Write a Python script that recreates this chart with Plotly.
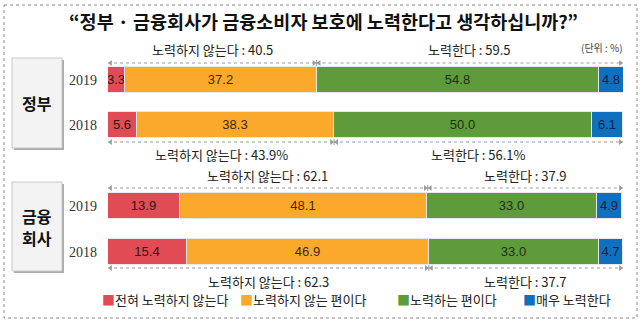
import plotly.graph_objects as go

# ---- data -------------------------------------------------------------
groups = ["정부", "정부", "금융회사", "금융회사"]
years = ["2019", "2018", "2019", "2018"]
series_names = ["전혀 노력하지 않는다", "노력하지 않는 편이다", "노력하는 편이다", "매우 노력한다"]
not_at_all = [3.3, 5.6, 13.9, 15.4]
not_really = [37.2, 38.3, 48.1, 46.9]
somewhat = [54.8, 50.0, 33.0, 33.0]
very_much = [4.8, 6.1, 4.9, 4.7]
# stated totals (top row of each group, then bottom row)
no_effort_total = [40.5, 43.9, 62.1, 62.3]
effort_total = [59.5, 56.1, 37.9, 37.7]
total_suffix = ["", "%", "", ""]

# ---- styling / layout -------------------------------------------------
W, H = 642, 324
colors = ["#E14B53", "#FAA92A", "#5E9C3B", "#0F70C0"]
text_colors = ["#2a1a1a", "#3a2a10", "#1f2f16", "#0b2447"]
row_y = [80, 125, 206, 252]        # bar centres (px)
bar_h = 26
x0_px, x1_px = 108, 623
FONT = "Noto Sans CJK KR, Noto Sans, sans-serif"
NUM_FONT = "Liberation Sans Narrow, Liberation Sans, Noto Sans CJK KR, sans-serif"


def px(x):
    return x / W


fig = go.Figure()

series = [not_at_all, not_really, somewhat, very_much]
for name, vals, col, tcol in zip(series_names, series, colors, text_colors):
    fig.add_trace(go.Bar(
        y=row_y, x=vals, orientation="h", width=bar_h, name=name,
        marker=dict(color=col, line=dict(color="#E8E8E8", width=1)),
        text=[f"{v:.1f}" for v in vals], textposition="inside",
        insidetextanchor="middle", textangle=0, constraintext="none",
        textfont=dict(family=NUM_FONT, size=13, color=tcol),
        showlegend=False, hoverinfo="x+name",
    ))

shapes = []
annotations = []


def note(x, y, text, size, color="#222222", xref="paper", **kw):
    font = dict(family=kw.pop("family", FONT), size=size, color=color)
    if kw.pop("bold", False):
        font["weight"] = "bold"
    d = dict(xref=xref, yref="y", x=x, y=y, text=text, showarrow=False,
             xanchor=kw.pop("xanchor", "center"), yanchor="middle", font=font)
    d.update(kw)
    annotations.append(d)


# outer dotted frame
shapes.append(dict(type="rect", xref="paper", yref="y", x0=px(4), x1=px(637), y0=5, y1=318,
                   line=dict(color="#8A8A8A", width=1, dash="dot"), fillcolor="rgba(0,0,0,0)", layer="below"))

# title
note(px(323), 21, "“정부 · 금융회사가 금융소비자 보호에 노력한다고 생각하십니까?”", 18.5, "#111111", bold=True)
note(px(602), 47, "(단위 : %)", 10, "#444444")

# group label boxes (one text line per entry)
box_specs = [(["정부"], 58, 148), (["금융", "회사"], 182, 271)]
for lines, top, bot in box_specs:
    shapes.append(dict(type="rect", xref="paper", yref="y", x0=px(14), x1=px(64), y0=top + 2, y1=bot + 2,
                       line=dict(width=0), fillcolor="#A9A9A9", layer="below"))
    shapes.append(dict(type="rect", xref="paper", yref="y", x0=px(12), x1=px(62), y0=top, y1=bot,
                       line=dict(color="#C8C8C8", width=1), fillcolor="#F3F3F3", layer="below"))
    mid = (top + bot) / 2
    step = 22
    first = mid - step * (len(lines) - 1) / 2
    for k, line in enumerate(lines):
        note(px(37), first + k * step, line, 16, "#111111", bold=True)

# year labels
for yy, yr in zip(row_y, years):
    note(px(83), yy, yr, 14, "#333333", family="Liberation Serif, DejaVu Serif, serif")

# dotted range arrows with totals (above top row / below bottom row of each group)
arrow_y = [63, 142, 188, 268]
label_y = [49, 154, 175, 281]
arrow_col = "#9A9A9A"
ax_pts, ay_pts, sym = [], [], []
for i in range(4):
    split = no_effort_total[i]
    ya = arrow_y[i]
    for a, b in [(0, split), (split, 100)]:
        shapes.append(dict(type="line", xref="x", yref="y", x0=a, x1=b, y0=ya, y1=ya,
                           line=dict(color=arrow_col, width=1, dash="dot")))
        ax_pts += [a + 0.5, b - 0.5]
        ay_pts += [ya, ya]
        sym += ["triangle-left", "triangle-right"]
    shapes.append(dict(type="line", xref="x", yref="y", x0=split, x1=split, y0=ya - 3, y1=ya + 3,
                       line=dict(color=arrow_col, width=1)))
    note(split / 2, label_y[i],
         f"노력하지 않는다 : {no_effort_total[i]:.1f}{total_suffix[i]}", 13, xref="x")
    note((split + 100) / 2, label_y[i],
         f"노력한다 : {effort_total[i]:.1f}{total_suffix[i]}", 13, xref="x")

fig.add_trace(go.Scatter(x=ax_pts, y=ay_pts, mode="markers", showlegend=False, hoverinfo="skip",
                         marker=dict(symbol=sym, size=5, color=arrow_col)))

# legend row
legend_x = [100, 238, 395, 521]
for name, col, lx in zip(series_names, colors, legend_x):
    note(px(lx), 299, f'<span style="color:{col}">■</span>{name}', 13, xanchor="left")

fig.update_layout(
    width=W, height=H, autosize=False,
    margin=dict(l=0, r=0, t=0, b=0),
    paper_bgcolor="white", plot_bgcolor="white",
    barmode="stack", bargap=0,
    xaxis=dict(domain=[px(x0_px), px(x1_px)], range=[0, 100], visible=False, fixedrange=True),
    yaxis=dict(domain=[0, 1], range=[H, 0], visible=False, fixedrange=True),
    shapes=shapes, annotations=annotations,
    font=dict(family=FONT),
)

fig.write_html("out.html", config={"displayModeBar": False})
